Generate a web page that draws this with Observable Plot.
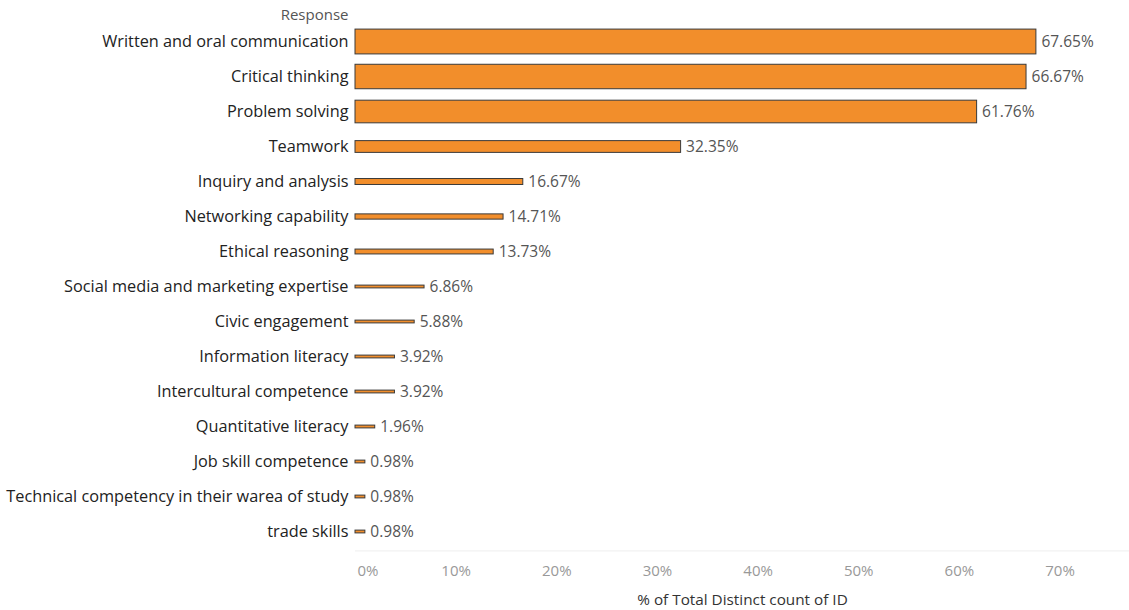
<!DOCTYPE html>
<html><head><meta charset="utf-8">
<script src="https://cdn.jsdelivr.net/npm/d3@7"></script>
<script src="https://cdn.jsdelivr.net/npm/@observablehq/plot@0.6"></script>
<style>
body{margin:0;background:#fff;}
svg{font-family:"Open Sans",Lato,sans-serif;}
</style></head>
<body><div id="chart"></div>
<script>
const categories = ["Written and oral communication","Critical thinking","Problem solving","Teamwork","Inquiry and analysis","Networking capability","Ethical reasoning","Social media and marketing expertise","Civic engagement","Information literacy","Intercultural competence","Quantitative literacy","Job skill competence","Technical competency in their warea of study","trade skills"];
const values = [67.65,66.67,61.76,32.35,16.67,14.71,13.73,6.86,5.88,3.92,3.92,1.96,0.98,0.98,0.98];
const xTicks = [0,10,20,30,40,50,60,70];

const data = categories.map((c,i)=>({cat:c, v:values[i]}));
const step = 35.2;
const barMarks = data.map(d => {
  const h = Math.max(3, d.v*0.37);
  const inset = (step - h)/2;
  return Plot.barX([d], {x: "v", y: "cat", fill: "#f28e2b", stroke: "#3a3a3a", strokeWidth: 1, insetTop: inset, insetBottom: inset});
});

const chart = Plot.plot({
  width: 1129, height: 610,
  marginLeft: 355, marginRight: 0, marginTop: 22.4, marginBottom: 59.6,
  x: {domain: [0, 76.9]},
  y: {domain: categories, padding: 0},
  marks: [
    Plot.gridX(xTicks, {stroke: "#ececec", strokeOpacity: 1, y1: 18, y2: 555}),
    Plot.frame({anchor: "bottom", stroke: "#eeeeee"}),
    ...barMarks,
    Plot.text(data, {x: "v", y: "cat", text: d => d.v.toFixed(2) + "%", textAnchor: "start", dx: 5, fontSize: 15.5, fill: "#555"}),
    Plot.axisY({tickSize: 0, tickPadding: 7, fontSize: 16.3, color: "#222", label: null}),
    Plot.axisX(xTicks.filter(t=>t>0), {tickSize: 0, tickPadding: 14, fontSize: 15, color: "#999", tickFormat: d => d + "%", label: null}),
    Plot.axisX([0], {tickSize: 0, tickPadding: 14, fontSize: 15, color: "#999", tickFormat: d => d + "%", textAnchor: "start", dx: 2, label: null}),
    Plot.text(["Response"], {frameAnchor: "top-left", textAnchor: "end", dx: -7, dy: -14, fontSize: 15, fill: "#555"}),
    Plot.text(["% of Total Distinct count of ID"], {frameAnchor: "bottom", dy: 54, fontSize: 15.3, fill: "#333"})
  ]
});
document.getElementById("chart").append(chart);
</script></body></html>
